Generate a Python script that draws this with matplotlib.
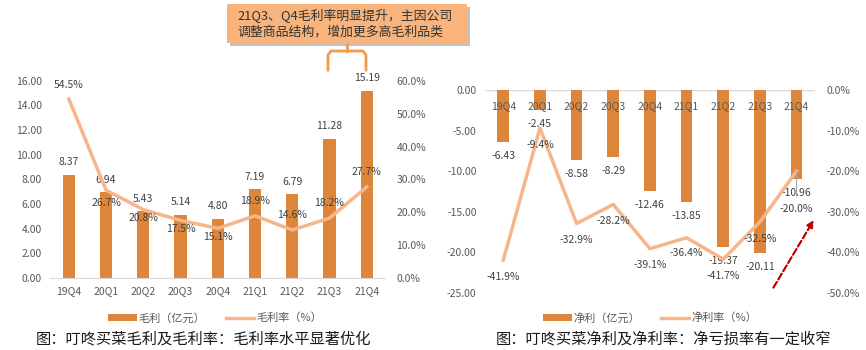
import matplotlib
matplotlib.use('Agg')
import matplotlib.pyplot as plt
from matplotlib.patches import Rectangle, Patch
from matplotlib.lines import Line2D
import numpy as np

plt.rcParams['font.family'] = ['Noto Sans CJK SC', 'DejaVu Sans']

quarters = ['19Q4', '20Q1', '20Q2', '20Q3', '20Q4', '21Q1', '21Q2', '21Q3', '21Q4']
gross_profit = [8.37, 6.94, 5.43, 5.14, 4.80, 7.19, 6.79, 11.28, 15.19]
gross_margin = [54.5, 26.7, 20.8, 17.5, 15.1, 18.9, 14.6, 18.2, 27.7]
net_profit = [-6.43, -2.45, -8.58, -8.29, -12.46, -13.85, -19.37, -20.11, -10.96]
net_margin = [-41.9, -9.4, -32.9, -28.2, -39.1, -36.4, -41.7, -32.5, -20.0]

left_ticks = [0, 2, 4, 6, 8, 10, 12, 14, 16]
left_pct_ticks = [0, 10, 20, 30, 40, 50, 60]
right_ticks = [-25, -20, -15, -10, -5, 0]
right_pct_ticks = [-50, -40, -30, -20, -10, 0]

# label offsets (points) for the margin lines
gm_dy = [10, -9, -6, -6, -6, 11, 11, 11, 11]
nm_dy = [-12, -12, -12, -12, -12, -11, -12, -12, -27]

BAR = '#DD863A'
LINE = '#F7B58C'
TICK = '#595959'
LBL = '#404040'

fig = plt.figure(figsize=(8.66, 3.5), dpi=100)
x = np.arange(len(quarters))

# ---------- left chart ----------
ax = fig.add_axes([0.058, 0.206, 0.387, 0.563])
ax.bar(x, gross_profit, width=0.33, color=BAR, zorder=2)
ax.set_xlim(-0.5, 8.5)
ax.set_ylim(0, 16)
ax.set_yticks(left_ticks)
ax.set_yticklabels(['%.2f' % v for v in left_ticks])
ax.set_xticks(x)
ax.set_xticklabels(quarters)
for s in ['top', 'right', 'left']:
    ax.spines[s].set_visible(False)
ax.spines['bottom'].set_color('#D9D9D9')
ax.tick_params(length=0, colors=TICK, labelsize=7.5, pad=6)
for xi, v in zip(x, gross_profit):
    ax.annotate('%.2f' % v, (xi, v), xytext=(0, 9), textcoords='offset points',
                ha='center', va='center', fontsize=7.5, color=LBL)

ax2 = ax.twinx()
ax2.plot(x, [v / 100 for v in gross_margin], color=LINE, lw=2.5, zorder=3)
ax2.set_ylim(0, 0.6)
ax2.set_yticks([v / 100 for v in left_pct_ticks])
ax2.set_yticklabels(['%.1f%%' % v for v in left_pct_ticks])
for s in ['top', 'right', 'left', 'bottom']:
    ax2.spines[s].set_visible(False)
ax2.tick_params(length=0, colors=TICK, labelsize=7.5, pad=8)
for xi, v, dy in zip(x, gross_margin, gm_dy):
    ax2.annotate('%.1f%%' % v, (xi, v / 100), xytext=(0, dy), textcoords='offset points',
                 ha='center', va='center', fontsize=7.5, color=LBL)

# ---------- right chart ----------
bx = fig.add_axes([0.560, 0.163, 0.381, 0.580])
bx.bar(x, net_profit, width=0.32, color=BAR, zorder=1)
bx.set_axisbelow(False)
bx.set_xlim(-0.5, 8.5)
bx.set_ylim(-25, 0)
bx.set_yticks(right_ticks)
bx.set_yticklabels(['%.2f' % v for v in right_ticks])
bx.set_xticks(x)
bx.set_xticklabels(quarters)
bx.tick_params(axis='x', bottom=False, top=False, labeltop=True, labelbottom=False, pad=-15)
for s in ['top', 'right', 'left', 'bottom']:
    bx.spines[s].set_visible(False)
bx.axhline(0, color='#D9D9D9', lw=1, zorder=0.5)
bx.tick_params(length=0, colors=TICK, labelsize=7.5)
bx.tick_params(axis='y', pad=6)
for xi, v in zip(x, net_profit):
    bx.annotate('%.2f' % v, (xi, v), xytext=(0, -10), textcoords='offset points',
                ha='center', va='center', fontsize=7.5, color=LBL)

bx2 = bx.twinx()
bx2.plot(x, [v / 100 for v in net_margin], color=LINE, lw=2.5, zorder=3)
# thin leader line for the last label
bx2.annotate('', xy=(x[-1], net_margin[-1] / 100), xytext=(0, -18),
             textcoords='offset points', xycoords='data',
             arrowprops=dict(arrowstyle='-', color='#A6A6A6', lw=0.8,
                             shrinkA=0, shrinkB=0))
bx2.set_ylim(-0.5, 0)
bx2.set_yticks([v / 100 for v in right_pct_ticks])
bx2.set_yticklabels(['%.1f%%' % v for v in right_pct_ticks])
for s in ['top', 'right', 'left', 'bottom']:
    bx2.spines[s].set_visible(False)
bx2.tick_params(length=0, colors=TICK, labelsize=7.5, pad=8)
for xi, v, dy in zip(x, net_margin, nm_dy):
    bx2.annotate('%.1f%%' % v, (xi, v / 100), xytext=(0, dy), textcoords='offset points',
                 ha='center', va='center', fontsize=7.5, color=LBL)

# ---------- legends ----------
def legend(labels, cx):
    handles = [Patch(facecolor=BAR), Line2D([], [], color=LINE, lw=2.5)]
    fig.legend(handles, labels, loc='center', bbox_to_anchor=(cx, 1 - 318 / 350),
               ncol=2, frameon=False, fontsize=8, handlelength=2.6, handleheight=0.5,
               columnspacing=1.8, handletextpad=0.2, labelcolor=TICK)

legend(['毛利（亿元）', '毛利率（%）'], 215 / 866)
legend(['净利（亿元）', '净利率（%）'], 650 / 866)

# ---------- captions ----------
fig.text(203 / 866, 1 - 339 / 350, '图：叮咚买菜毛利及毛利率：毛利率水平显著优化',
         ha='center', va='center', fontsize=11, color='#1A1A1A')
fig.text(663 / 866, 1 - 339 / 350, '图：叮咚买菜净利及净利率：净亏损率有一定收窄',
         ha='center', va='center', fontsize=11, color='#1A1A1A')

# ---------- annotation box ----------
W, H = 866, 350
def fr(px, py):
    return px / W, 1 - py / H

bx0, by0 = fr(227, 43)
bw, bh = 240 / W, 39 / H
fig.patches.append(Rectangle((bx0 + 3 / W, by0 - 3 / H), bw, bh, transform=fig.transFigure,
                             facecolor='#9A9A9A', edgecolor='none', alpha=0.6, zorder=1))
fig.patches.append(Rectangle((bx0, by0), bw, bh, transform=fig.transFigure,
                             facecolor='#F8B47C', edgecolor='none', zorder=2))
fig.text(237 / W, 1 - 24 / H, '21Q3、Q4毛利率明显提升，主因公司\n调整商品结构，增加更多高毛利品类',
         ha='left', va='center', fontsize=9.3, color='#333333', linespacing=1.3, zorder=3)

# bracket
bracket_x = [328, 328, 331, 363, 366, 366]
bracket_y = [70, 55, 51, 51, 55, 70]
fig.add_artist(Line2D([v / W for v in bracket_x], [1 - v / H for v in bracket_y],
                      transform=fig.transFigure, color='#F39B4A', lw=2))
fig.add_artist(Line2D([347 / W, 347 / W], [1 - 51 / H, 1 - 44 / H],
                      transform=fig.transFigure, color='#F39B4A', lw=2))

# red dashed arrow
fig.add_artist(plt.annotate('', xy=fr(815, 218), xytext=fr(772, 290),
                            xycoords='figure fraction', textcoords='figure fraction',
                            arrowprops=dict(arrowstyle='-|>', color='#C00000', lw=1.3,
                                            linestyle='--', mutation_scale=10)))

fig.savefig('out.png', dpi=100)
